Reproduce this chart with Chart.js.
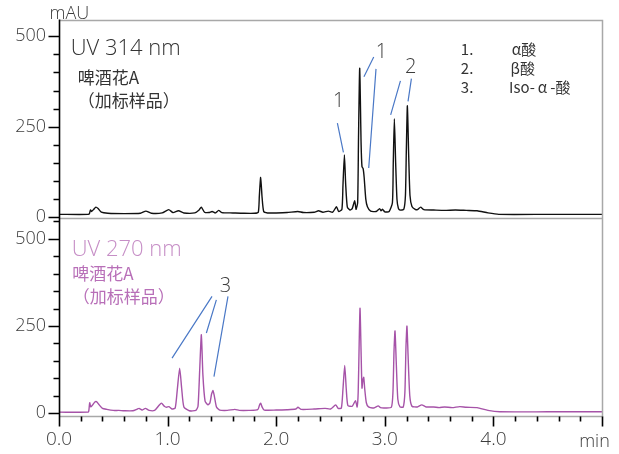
<!DOCTYPE html>
<html>
<head>
<meta charset="utf-8">
<script src="https://cdn.jsdelivr.net/npm/chart.js@4.4.0/dist/chart.umd.min.js"></script>
<style>
html, body { margin: 0; padding: 0; background: #fff; }
</style>
</head>
<body>
<canvas id="hplc-chart" width="619" height="454"></canvas>
<script>
// retention time (min) / absorbance (mAU)
var topTimes = [0, 0.27, 0.28, 0.29, 0.30, 0.32, 0.34, 0.36, 0.39, 0.45, 0.60, 0.75, 0.80, 0.85, 0.95, 1.01, 1.05, 1.10, 1.15, 1.25,
    1.29, 1.31, 1.34, 1.38, 1.41, 1.44, 1.47, 1.50, 1.60, 1.70, 1.80, 1.835, 1.845, 1.857, 1.87, 1.885, 1.92, 2.00, 2.10, 2.20,
    2.25, 2.35, 2.39, 2.43, 2.48, 2.52, 2.555, 2.575, 2.605, 2.615, 2.628, 2.64, 2.655, 2.68, 2.70, 2.723, 2.735, 2.75, 2.758, 2.769,
    2.782, 2.79, 2.80, 2.81, 2.825, 2.84, 2.87, 2.92, 2.953, 2.965, 2.98, 3.00, 3.04, 3.07, 3.078, 3.088, 3.10, 3.112, 3.125, 3.14,
    3.175, 3.19, 3.198, 3.208, 3.22, 3.232, 3.25, 3.28, 3.30, 3.33, 3.36, 3.45, 3.55, 3.65, 3.75, 3.85, 3.95, 4.05, 4.5, 5.0];
var topValues = [8, 8, 10, 20, 16, 22, 28, 24, 14, 11, 10, 11, 17, 11, 12, 21, 13, 18, 12, 12,
    20, 28, 14, 13, 16, 12, 19, 13, 12, 11, 11, 14, 60, 110, 55, 16, 12, 12, 13, 16,
    13, 14, 18, 14, 17, 14, 29, 16, 22, 90, 172, 90, 28, 20, 24, 46, 22, 40, 220, 412,
    200, 140, 135, 110, 50, 29, 17, 16, 24, 18, 22, 15, 16, 40, 150, 272, 150, 50, 25, 20,
    22, 60, 180, 308, 170, 60, 30, 22, 21, 28, 21, 20, 19, 20, 19, 18, 12, 8, 8, 8];

var bottomTimes = [0, 0.27, 0.275, 0.283, 0.292, 0.31, 0.33, 0.345, 0.37, 0.40, 0.44, 0.50, 0.55, 0.60, 0.68, 0.72, 0.737, 0.765, 0.795, 0.83,
    0.88, 0.92, 0.943, 0.97, 0.99, 1.013, 1.04, 1.07, 1.09, 1.111, 1.13, 1.15, 1.20, 1.26, 1.28, 1.295, 1.311, 1.325, 1.345, 1.372,
    1.39, 1.405, 1.418, 1.43, 1.45, 1.48, 1.55, 1.62, 1.66, 1.75, 1.83, 1.845, 1.857, 1.87, 1.89, 2.00, 2.10, 2.18, 2.20, 2.23,
    2.35, 2.45, 2.50, 2.548, 2.57, 2.60, 2.615, 2.631, 2.645, 2.66, 2.70, 2.73, 2.745, 2.755, 2.764, 2.772, 2.782, 2.79, 2.798, 2.806,
    2.815, 2.83, 2.85, 2.90, 2.94, 2.96, 3.00, 3.06, 3.075, 3.085, 3.094, 3.105, 3.12, 3.14, 3.17, 3.185, 3.195, 3.204, 3.215, 3.23,
    3.25, 3.30, 3.34, 3.38, 3.45, 3.50, 3.55, 3.62, 3.69, 3.75, 3.85, 3.95, 4.06, 4.5, 5.0];
var bottomValues = [3, 3, 8, 30, 18, 24, 32, 33, 24, 14, 11, 8, 8, 7, 7, 12, 14, 9, 14, 8,
    8, 22, 29, 20, 17, 19, 12, 15, 70, 129, 70, 18, 7, 8, 20, 120, 225, 110, 35, 24,
    30, 55, 65, 50, 18, 9, 8, 11, 8, 8, 10, 22, 29, 18, 9, 9, 10, 12, 17, 11,
    12, 14, 12, 24, 14, 15, 70, 137, 70, 22, 20, 36, 18, 60, 200, 301, 170, 72, 95, 103,
    70, 30, 18, 15, 21, 16, 15, 17, 60, 180, 236, 150, 40, 18, 18, 60, 190, 250, 160, 50,
    20, 18, 24, 18, 18, 16, 18, 16, 19, 17, 16, 8, 4, 4, 4];

var xTickLabels = ["0.0", "1.0", "2.0", "3.0", "4.0"];
var yTickLabels = [0, 250, 500];

// text and leader lines, placed in data units of each panel
var notes = [
    { axis: "yTop", text: "UV 314 nm", x: 0.108, y: 449, font: "300 22px 'Open Sans'", color: "#333" },
    { axis: "yTop", text: "啤酒花A", x: 0.172, y: 369, font: "17px 'Noto Sans CJK SC'", color: "#333" },
    { axis: "yTop", text: "（加标样品）", x: 0.172, y: 305, font: "17px 'Noto Sans CJK SC'", color: "#333" },
    { axis: "yTop", text: "1.", x: 3.70, y: 449, font: "15px 'Noto Sans CJK SC'", color: "#333" },
    { axis: "yTop", text: "α酸", x: 4.169, y: 449, font: "15px 'Noto Sans CJK SC'", color: "#333" },
    { axis: "yTop", text: "2.", x: 3.70, y: 397, font: "15px 'Noto Sans CJK SC'", color: "#333" },
    { axis: "yTop", text: "β酸", x: 4.157, y: 397, font: "15px 'Noto Sans CJK SC'", color: "#333" },
    { axis: "yTop", text: "3.", x: 3.70, y: 343, font: "15px 'Noto Sans CJK SC'", color: "#333" },
    { axis: "yTop", text: "Iso-\u2009α\u2009-酸", x: 4.144, y: 343, font: "15px 'Noto Sans CJK SC'", color: "#333" },
    { axis: "yBottom", text: "UV 270 nm", x: 0.117, y: 451, font: "300 22px 'Open Sans'", color: "#c68ec6" },
    { axis: "yBottom", text: "啤酒花A", x: 0.123, y: 382, font: "17px 'Noto Sans CJK SC'", color: "#b86fb8" },
    { axis: "yBottom", text: "（加标样品）", x: 0.127, y: 316, font: "17px 'Noto Sans CJK SC'", color: "#b86fb8" }
];

var peakLabels = [
    { axis: "yTop", text: "1", x: 2.575, y: 320 },
    { axis: "yTop", text: "1", x: 2.969, y: 455 },
    { axis: "yTop", text: "2", x: 3.238, y: 413 },
    { axis: "yBottom", text: "3", x: 1.532, y: 363 }
];

var leaders = [
    { axis: "yTop", from: [2.5635, 260], to: [2.619, 179] },
    { axis: "yTop", from: [2.898, 443], to: [2.808, 388] },
    { axis: "yTop", from: [2.919, 410], to: [2.852, 136] },
    { axis: "yTop", from: [3.144, 377], to: [3.054, 283] },
    { axis: "yTop", from: [3.245, 383], to: [3.214, 320] },
    { axis: "yBottom", from: [1.409, 335], to: [1.041, 158] },
    { axis: "yBottom", from: [1.449, 325], to: [1.357, 230] },
    { axis: "yBottom", from: [1.556, 335], to: [1.427, 105] }
];

function toPoints(times, values) {
    return times.map(function (t, i) {
        return { x: t, y: values[i] };
    });
}

function isWhole(v) {
    return Math.abs(v - Math.round(v)) < 1e-6;
}

function keepFifties(scale) {
    scale.ticks = scale.ticks.filter(function (t) {
        return isWhole(t.value / 50);
    });
}

function yAxis(min, max, weight) {
    return {
        type: "linear",
        position: "left",
        stack: "panels",
        stackWeight: 1,
        weight: weight,
        min: min,
        max: max,
        afterBuildTicks: keepFifties,
        afterFit: function (scale) {
            scale.width = 59;
        },
        grid: { display: false, tickLength: 10 },
        border: { display: false },
        ticks: {
            stepSize: 50,
            includeBounds: false,
            autoSkip: false,
            padding: 3,
            color: "#3c3c3c",
            font: { family: "'Open Sans'", size: 18, weight: 300 },
            callback: function (v) {
                return yTickLabels.indexOf(v) >= 0 ? String(v) : "";
            },
        },
    };
}

var decorations = {
    id: "decorations",
    afterDraw: function (chart) {
        var ctx = chart.ctx;
        var x = chart.scales.x;
        var yTop = chart.scales.yTop;
        var yBottom = chart.scales.yBottom;
        var left = Math.round(x.left) + 0.5;
        var right = Math.round(x.right) + 0.5;
        var top = Math.round(yTop.top) + 0.5;
        var mid = Math.round(yTop.bottom) + 0.5;
        var bottom = Math.round(yBottom.bottom) + 0.5;

        ctx.save();

        // frame: top, right, divider and bottom axis in grey
        ctx.strokeStyle = "#a8a8a8";
        ctx.lineWidth = 1.5;
        ctx.beginPath();
        ctx.moveTo(left, top);
        ctx.lineTo(right, top);
        ctx.lineTo(right, bottom);
        ctx.lineTo(left, bottom);
        ctx.moveTo(left, mid);
        ctx.lineTo(right, mid);
        ctx.stroke();

        // left axis and tick marks, long on labelled values
        ctx.strokeStyle = "#000";
        ctx.lineWidth = 1.6;
        ctx.beginPath();
        ctx.moveTo(left, top - 1);
        ctx.lineTo(left, bottom);
        x.ticks.forEach(function (t) {
            var px = Math.round(x.getPixelForValue(t.value)) + 0.5;
            var len = isWhole(t.value) ? 10 : 5;
            ctx.moveTo(px, bottom);
            ctx.lineTo(px, bottom + len);
        });
        [yTop, yBottom].forEach(function (s) {
            s.ticks.forEach(function (t) {
                var py = Math.round(s.getPixelForValue(t.value)) + 0.5;
                var len = yTickLabels.indexOf(t.value) >= 0 ? 11 : 6;
                ctx.moveTo(left, py);
                ctx.lineTo(left - len, py);
            });
        });
        ctx.stroke();

        // axis titles
        ctx.fillStyle = "#3c3c3c";
        ctx.font = "300 18px 'Open Sans'";
        ctx.textAlign = "left";
        ctx.textBaseline = "alphabetic";
        ctx.fillText("mAU", left - 10, top - 2);
        ctx.textAlign = "center";
        ctx.fillText("min", right - 8, 447);

        notes.forEach(function (n) {
            var s = chart.scales[n.axis];
            ctx.font = n.font;
            ctx.fillStyle = n.color;
            ctx.textAlign = "left";
            ctx.textBaseline = "alphabetic";
            ctx.fillText(n.text, x.getPixelForValue(n.x), s.getPixelForValue(n.y));
        });

        ctx.font = "300 20px 'Open Sans'";
        ctx.fillStyle = "#3c3c3c";
        ctx.textAlign = "center";
        ctx.textBaseline = "middle";
        peakLabels.forEach(function (p) {
            var s = chart.scales[p.axis];
            ctx.fillText(p.text, x.getPixelForValue(p.x), s.getPixelForValue(p.y));
        });

        ctx.strokeStyle = "#4a78c6";
        ctx.lineWidth = 1.2;
        ctx.beginPath();
        leaders.forEach(function (l) {
            var s = chart.scales[l.axis];
            ctx.moveTo(x.getPixelForValue(l.from[0]), s.getPixelForValue(l.from[1]));
            ctx.lineTo(x.getPixelForValue(l.to[0]), s.getPixelForValue(l.to[1]));
        });
        ctx.stroke();

        ctx.restore();
    },
};

var context = document.getElementById("hplc-chart").getContext("2d");

var myChart = new Chart(context, {
    type: "line",
    data: {
        datasets: [
            {
                label: "UV 314 nm",
                data: toPoints(topTimes, topValues),
                yAxisID: "yTop",
                borderColor: "#111",
                borderWidth: 1.4,
                pointRadius: 0,
                tension: 0.2,
            },
            {
                label: "UV 270 nm",
                data: toPoints(bottomTimes, bottomValues),
                yAxisID: "yBottom",
                borderColor: "#a653a8",
                borderWidth: 1.4,
                pointRadius: 0,
                tension: 0.2,
            },
        ],
    },
    options: {
        responsive: false,
        animation: false,
        devicePixelRatio: 1,
        layout: { padding: { top: 20, right: 17, left: 0, bottom: 0 } },
        plugins: {
            legend: { display: false },
            tooltip: { enabled: false },
        },
        scales: {
            x: {
                type: "linear",
                position: "bottom",
                min: 0,
                max: 5,
                afterFit: function (scale) {
                    scale.height = 38;
                },
                grid: { display: false, tickLength: 10 },
                border: { display: false },
                ticks: {
                    stepSize: 0.2,
                    autoSkip: false,
                    maxRotation: 0,
                    padding: 2,
                    color: "#3c3c3c",
                    font: { family: "'Open Sans'", size: 19, weight: 300 },
                    callback: function (v) {
                        if (!isWhole(v)) return "";
                        var i = Math.round(v);
                        return i < xTickLabels.length ? xTickLabels[i] : "";
                    },
                },
            },
            yTop: yAxis(-2, 545, 1),
            yBottom: yAxis(-8, 560, 0),
        },
    },
    plugins: [decorations],
});
</script>
</body>
</html>
